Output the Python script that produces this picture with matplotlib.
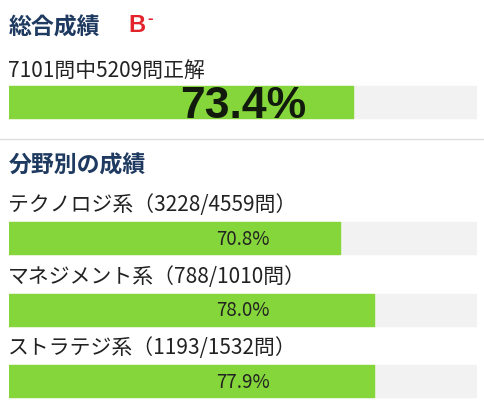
import matplotlib
matplotlib.use("Agg")
import matplotlib.pyplot as plt

# data
overall_correct = 5209
overall_total = 7101
overall_pct = 73.4
grade = "B"
grade_mark = "-"

categories = ["テクノロジ系", "マネジメント系", "ストラテジ系"]
cat_correct = [3228, 788, 1193]
cat_total = [4559, 1010, 1532]
cat_pct = [70.8, 78.0, 77.9]

# colours
NAVY = "#1f3a60"
RED = "#e3232b"
GREEN = "#84d63a"
TRACK = "#f2f2f2"
TEXT = "#222222"

JP = ["Noto Sans CJK JP", "DejaVu Sans"]

W, H = 484, 415
fig = plt.figure(figsize=(W / 100, H / 100), dpi=100)
fig.patch.set_facecolor("white")

# full-figure axes in pixel units for text and the separator
ax = fig.add_axes([0, 0, 1, 1])
ax.set_xlim(0, W)
ax.set_ylim(H, 0)
ax.axis("off")

# bar axes: x in percent, y in pixels
left_px, track_px = 9, 468
bx = fig.add_axes([left_px / W, 0, track_px / W, 1])
bx.set_xlim(0, 100)
bx.set_ylim(H, 0)
bx.axis("off")

def draw_bar(yc, pct, h=32):
    bx.barh(yc, 100, height=h, color=TRACK, edgecolor=TRACK, lw=1, joinstyle="round")
    bx.barh(yc, pct, height=h, color=GREEN, edgecolor=GREEN, lw=1, joinstyle="round")

# ---- overall ----
ax.text(9, 34.5, "総合成績", fontsize=16.5, fontweight="bold", color=NAVY,
        family=JP, va="baseline", ha="left")
ax.text(128, 32.5, grade, fontsize=17, fontweight="bold", color=RED,
        family="Liberation Sans", va="baseline", ha="left")
ax.text(147, 23, grade_mark, fontsize=12, fontweight="bold", color=RED,
        family="Liberation Sans", va="baseline", ha="left")

ax.text(8, 77, f"{overall_total}問中{overall_correct}問正解", fontsize=15,
        color=TEXT, family=JP, va="baseline", ha="left")
main_y = 102
draw_bar(main_y, overall_pct)
bx.text(50, main_y + 15.5, f"{overall_pct:.1f}%", fontsize=32, fontweight="bold",
        color="#111a0c", family="Liberation Sans", ha="center", va="baseline")

ax.axhline(139, color="#dddddd", lw=1)

# ---- by category ----
ax.text(9, 173, "分野別の成績", fontsize=16.5, fontweight="bold", color=NAVY,
        family=JP, va="baseline", ha="left")

bar_centers = [238, 309.5, 381]
for name, c, t, p, yc in zip(categories, cat_correct, cat_total, cat_pct, bar_centers):
    ax.text(8, yc - 27, f"{name}（{c}/{t}問）", fontsize=15, color=TEXT,
            family=JP, va="baseline", ha="left")
    draw_bar(yc, p)
    bx.text(50, yc + 6.5, f"{p:.1f}%", fontsize=13.5, color=TEXT, family=JP,
            ha="center", va="baseline")

fig.savefig("out.png", dpi=100, facecolor="white")
